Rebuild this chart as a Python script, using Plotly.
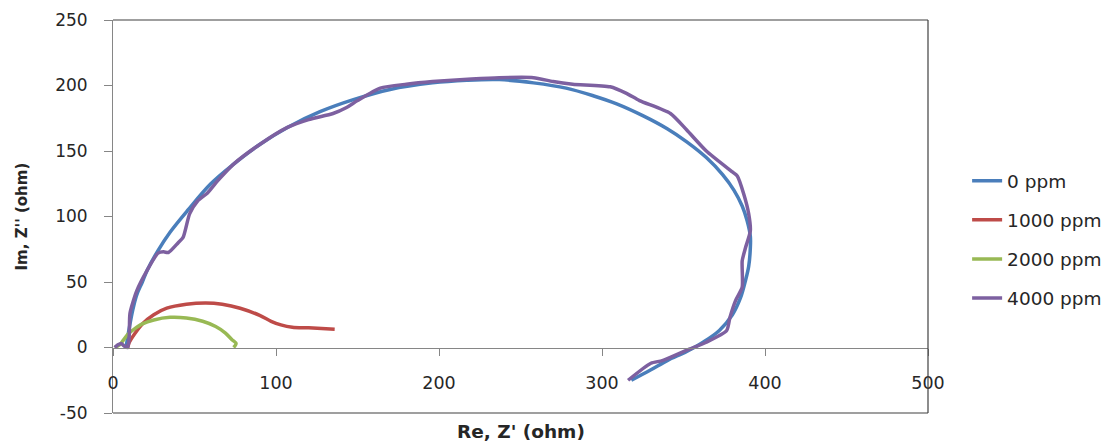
import plotly.graph_objects as go

# ---------------- data ----------------
names = ["0 ppm", "1000 ppm", "2000 ppm", "4000 ppm"]
colors = ["#4A7EBB", "#BE4B48", "#98B954", "#7D60A0"]

x_0ppm = [8, 10, 12, 14.5, 18, 21, 27.6, 35, 46, 60, 74, 90, 107, 127, 147, 170, 196,
          217, 237, 258, 278, 295, 309, 325, 340, 352, 364, 374, 381, 386, 389, 391,
          391, 390, 388, 385, 380, 372, 362, 352, 340, 330, 318]
y_0ppm = [0, 15, 28, 40, 50, 59, 74, 88, 105, 125, 140, 155, 168, 180, 189, 197, 202,
          204, 204.5, 202, 198, 192, 186, 177, 167, 157, 145, 132, 120, 108, 97, 85,
          76, 62, 51, 38, 25, 13, 4, -3, -10, -17, -25]

x_1000ppm = [9, 10, 13, 18, 25, 33, 45, 57, 67, 78, 90, 97, 103, 110, 120, 136]
y_1000ppm = [0, 4, 10, 18, 25, 30, 33, 34, 33, 30, 24.5, 20, 17.3, 15.5, 15, 14]

x_2000ppm = [1, 4, 6, 9, 13, 18, 25, 35, 45, 55, 63, 69, 73, 75.5, 74]
y_2000ppm = [0, 2, 5, 10, 14, 18, 21, 23, 22.5, 20, 16, 11, 6, 3, 0]

x_4000ppm = [1, 3, 5, 7, 9, 10, 10.4, 14.5, 21, 27.6, 31, 34, 40, 43, 47, 52, 58, 64,
             74, 90, 107, 120, 135, 143, 150, 164, 180, 196, 220, 237, 258, 270, 282,
             305, 315, 323, 342, 352, 364, 380, 383, 387, 390, 391, 388, 386, 386, 382,
             378.5, 376.5, 364, 352, 337, 330, 316]
y_4000ppm = [0, 2, 3, 1, 0, 10, 26, 43, 59, 72, 73, 72.5, 80, 84, 102, 112, 118, 127,
             140, 155, 168, 174, 178.6, 183, 188.5, 198, 201, 203, 205, 206, 206, 203,
             201, 199, 194, 188.5, 178.6, 166, 150, 134, 131, 117, 102, 89, 76, 66, 46,
             36, 23, 13, 4, -2, -10, -12, -25]

series_x = [x_0ppm, x_1000ppm, x_2000ppm, x_4000ppm]
series_y = [y_0ppm, y_1000ppm, y_2000ppm, y_4000ppm]
smooth = [1.0, 0.8, 0.8, 0.6]

x_ticks = [0, 100, 200, 300, 400, 500]
y_ticks = [-50, 0, 50, 100, 150, 200, 250]

FONT = "DejaVu Sans"
AXIS_GRAY = "#868686"
BORDER = "#404040"

fig = go.Figure()
for i, (nm, c) in enumerate(zip(names, colors)):
    fig.add_trace(go.Scatter(
        x=series_x[i], y=series_y[i], mode="lines", name=nm,
        line=dict(color=c, width=3.5, shape="spline", smoothing=smooth[i]),
        legendgroup=nm,
    ))

fig.update_layout(
    width=1113, height=444,
    margin=dict(l=113, r=185, t=20, b=31, autoexpand=False),
    paper_bgcolor="white", plot_bgcolor="white",
    font=dict(family=FONT, color="#262626"),
    showlegend=True,
    legend=dict(
        x=1.048, y=0.638, xanchor="left", yanchor="top",
        font=dict(family=FONT, size=18.5, color="#262626"),
        tracegroupgap=12, bgcolor="rgba(0,0,0,0)",
    ),
    xaxis=dict(
        range=[0, 500], tickvals=x_ticks, ticktext=[str(v) for v in x_ticks],
        anchor="free", position=50 / 300,
        showline=True, linecolor=AXIS_GRAY, linewidth=1,
        ticks="outside", ticklen=7, tickcolor=AXIS_GRAY, tickwidth=1,
        showgrid=False, zeroline=False,
        tickfont=dict(family=FONT, size=17.5, color="#262626"),
        ticklabelstandoff=12,
    ),
    yaxis=dict(
        range=[-50, 250], tickvals=y_ticks, ticktext=[str(v) for v in y_ticks],
        showline=True, linecolor=AXIS_GRAY, linewidth=1,
        ticks="outside", ticklen=8, tickcolor=AXIS_GRAY, tickwidth=1,
        showgrid=False, zeroline=False,
        tickfont=dict(family=FONT, size=17, color="#262626"),
        ticklabelstandoff=13,
    ),
    shapes=[
        dict(type="line", xref="paper", yref="paper", x0=0, x1=1, y0=1, y1=1,
             line=dict(color=BORDER, width=1.2)),
        dict(type="line", xref="paper", yref="paper", x0=1, x1=1, y0=0, y1=1,
             line=dict(color=BORDER, width=1.2)),
        dict(type="line", xref="paper", yref="paper", x0=0, x1=1, y0=0, y1=0,
             line=dict(color=BORDER, width=1.2)),
    ],
    annotations=[
        dict(text="<b>Re, Z' (ohm)</b>", xref="paper", yref="paper",
             x=0.5, y=-0.048, xanchor="center", yanchor="middle", showarrow=False,
             font=dict(family=FONT, size=18.5, color="#262626")),
        dict(text="<b>Im, Z'' (ohm)</b>", xref="paper", yref="paper",
             x=-0.1117, y=0.5, xanchor="center", yanchor="middle", showarrow=False,
             textangle=-90, font=dict(family=FONT, size=15, color="#262626")),
    ],
)

fig.write_html("out.html")
